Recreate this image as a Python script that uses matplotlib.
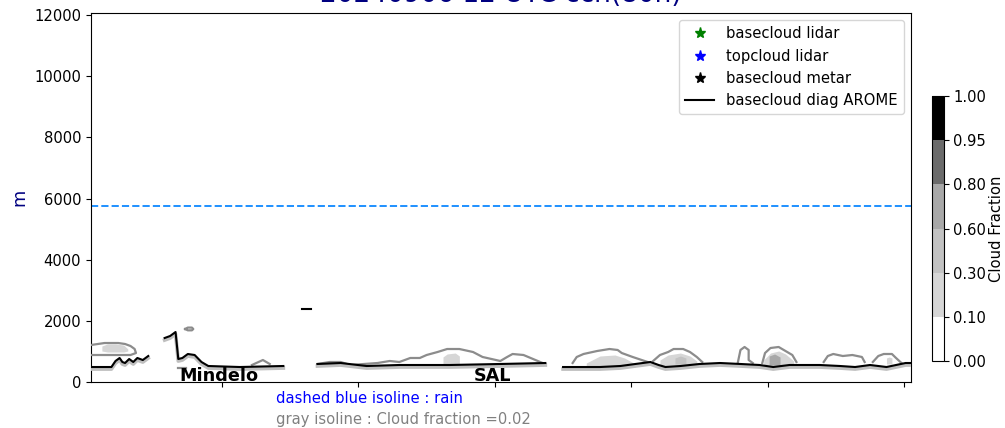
import numpy as np
import matplotlib
matplotlib.use("Agg")
import matplotlib.pyplot as plt
from matplotlib.colors import ListedColormap, BoundaryNorm
from matplotlib.cm import ScalarMappable
from matplotlib.transforms import ScaledTranslation

# -----------------------------
# Dados
# -----------------------------
title = "20240906 12 UTC ccn(80h)"

# base da nuvem diagnosticada pelo AROME (m), por troço
base_x = [
    [0, 15, 18, 21, 23, 25, 28, 31, 34, 38, 42],
    [54, 58, 62, 64, 67, 71, 76, 81, 86, 109, 141],
    [155, 161],
    [166, 183, 202, 226, 263, 300, 333],
    [346, 373, 388, 399, 410, 416, 421, 432, 446, 461, 476, 490, 500, 512,
     534, 549, 560, 571, 583, 597, 601],
]
base_h = [
    [490, 490, 687, 785, 654, 621, 752, 654, 785, 719, 850],
    [1439, 1504, 1635, 752, 785, 916, 883, 654, 523, 490, 523],
    [2387, 2387],
    [589, 621, 523, 556, 556, 589, 621],
    [490, 490, 523, 589, 654, 556, 490, 523, 589, 621, 589, 556, 490, 556,
     556, 523, 490, 556, 490, 621, 621],
]

# isolinha cinzenta (fração de nuvem = 0.02)
iso_x = [
    [0, 10, 20, 25, 29, 32, 33, 29, 20, 10, 0],
    [69, 71, 74, 75, 74, 71, 69],
    [64, 70],
    [118, 126, 131],
    [166, 175, 183, 190, 210, 219, 226, 234, 241, 246, 254, 261, 270, 280,
     287, 300, 305, 309, 317, 324, 331],
    [353, 356, 361, 371, 380, 386, 389, 397, 408],
    [412, 417, 423, 427, 434, 439, 444, 448],
    [474, 476, 479, 482, 482, 485],
    [492, 494, 498, 504, 509, 514, 517],
    [537, 540, 544, 551, 558, 565, 567],
    [573, 577, 581, 587, 590, 594],
]
iso_h = [
    [1210, 1275, 1275, 1243, 1177, 1080, 948, 883, 883, 883, 883],
    [1733, 1780, 1780, 1733, 1690, 1690, 1733],
    [458, 458],
    [556, 719, 589],
    [589, 654, 654, 556, 621, 687, 654, 785, 785, 883, 981, 1079, 1079, 981,
     818, 687, 818, 916, 883, 752, 621],
    [621, 818, 916, 1014, 1079, 1047, 948, 818, 654],
    [687, 883, 981, 1079, 1079, 981, 818, 654],
    [621, 1047, 1145, 1047, 719, 621],
    [621, 948, 1112, 1145, 1014, 883, 654],
    [654, 850, 916, 850, 883, 818, 654],
    [654, 850, 916, 916, 785, 621],
]

# manchas sombreadas: x, topo, fundo, nível de fração
fill_x = [
    [8, 12, 18, 24, 27],
    [258, 261, 267, 270],
    [363, 373, 384, 391, 399],
    [417, 423, 432, 439, 444],
    [428, 432, 436],
    [493, 498, 504, 509, 515],
    [497, 501, 505],
    [583, 585, 587],
]
fill_top = [
    [1177, 1243, 1243, 1210, 1080],
    [818, 916, 948, 850],
    [621, 850, 883, 785, 589],
    [719, 883, 948, 850, 687],
    [785, 850, 785],
    [719, 948, 1014, 916, 687],
    [850, 916, 818],
    [785, 818, 785],
]
fill_bot = [
    [1014, 981, 981, 981, 1014],
    [589, 589, 589, 589],
    [490, 490, 490, 490, 490],
    [523, 523, 523, 523, 523],
    [589, 589, 589],
    [490, 490, 490, 490, 490],
    [556, 556, 556],
    [589, 589, 589],
]
fill_frac = [0.2, 0.2, 0.2, 0.2, 0.45, 0.2, 0.7, 0.2]

# chuva (isolinha tracejada azul)
rain_x = [0, 601]
rain_h = [5755, 5755]

stations = ["Mindelo", "SAL"]
station_x = [94, 294]

cf_levels = [0.0, 0.1, 0.3, 0.6, 0.8, 0.95, 1.0]
cf_colors = ["#ffffff", "#d6d6d6", "#c2c2c2", "#a8a8a8", "#6b6b6b", "#000000"]

xticks = [96, 196, 296, 396, 496, 596]

# -----------------------------
# Figura
# -----------------------------
plt.rcParams["font.size"] = 10.6

fig = plt.figure(figsize=(10.05, 4.28), dpi=100)
ax = fig.add_axes([0.0905, 0.1075, 0.816, 0.862])

cmap = ListedColormap(cf_colors)
norm = BoundaryNorm(cf_levels, cmap.N)

# sombreado
for fx, ft, fb, fr in zip(fill_x, fill_top, fill_bot, fill_frac):
    ax.fill_between(fx, fb, ft, color=cmap(norm(fr)), lw=0, zorder=2)

# isolinhas cinzentas
for ix, ih in zip(iso_x, iso_h):
    ax.plot(ix, ih, color="0.55", lw=1.6, zorder=3)

# halo cinzento por baixo da base
shadow = ax.transData + ScaledTranslation(0, -1.5 / 72, fig.dpi_scale_trans)
for bx, bh in zip(base_x[:2] + base_x[3:], base_h[:2] + base_h[3:]):
    ax.plot(bx, bh, color="0.75", lw=2.6, transform=shadow, zorder=3)

# base AROME
for i, (bx, bh) in enumerate(zip(base_x, base_h)):
    ax.plot(bx, bh, color="black", lw=1.5, zorder=4,
            label="basecloud diag AROME" if i == 0 else None)

ax.plot(rain_x, rain_h, "--", color="#1e90ff", lw=1.4, zorder=2)

# marcadores (sem dados) para a legenda
ax.plot([], [], "*", color="green", ms=8, ls="none", label="basecloud lidar")
ax.plot([], [], "*", color="blue", ms=8, ls="none", label="topcloud lidar")
ax.plot([], [], "*", color="black", ms=8, ls="none", label="basecloud metar")

handles, labels = ax.get_legend_handles_labels()
order = [1, 2, 3, 0]
ax.legend([handles[k] for k in order], [labels[k] for k in order],
          loc="upper right")

for name, sx in zip(stations, station_x):
    ax.text(sx, 20, name, ha="center", va="baseline", fontsize=12.7,
            fontweight="bold", zorder=5)

ax.set_xlim(0, 601)
ax.set_ylim(0, 12070)
ax.set_xticks(xticks)
ax.set_xticklabels([])
ax.set_yticks([0, 2000, 4000, 6000, 8000, 10000, 12000])
ax.set_ylabel("m", color="navy", fontsize=12.7, labelpad=4)
ax.set_title(title, color="navy", fontsize=19, pad=8)

fig.text(0.2746, 0.070, "dashed blue isoline : rain", color="blue",
         va="center")
fig.text(0.2746, 0.021, "gray isoline : Cloud fraction =0.02", color="gray",
         va="center")

# barra de cores
cax = fig.add_axes([0.927, 0.1565, 0.012, 0.619])
sm = ScalarMappable(norm=norm, cmap=cmap)
cb = fig.colorbar(sm, cax=cax, ticks=cf_levels, spacing="uniform")
cb.ax.set_yticklabels([f"{v:.2f}" for v in cf_levels])
cb.set_label("Cloud Fraction", labelpad=2)

fig.savefig("out.png", dpi=100)
